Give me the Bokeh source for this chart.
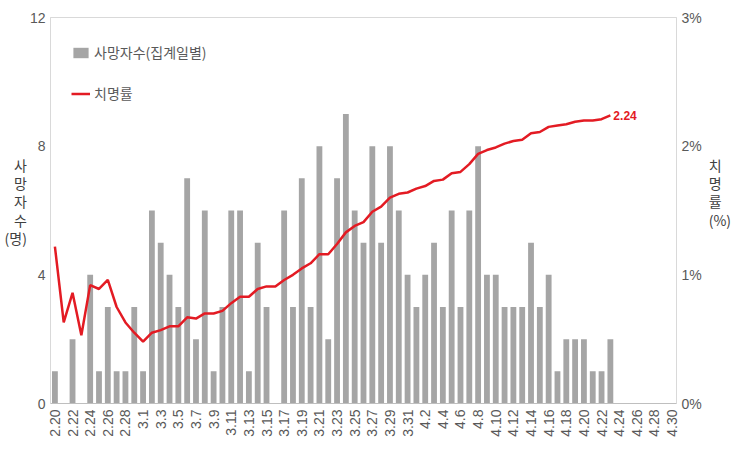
import math
from bokeh.plotting import figure
from bokeh.models import (Range1d, LinearAxis, FixedTicker, PrintfTickFormatter,
                          Legend, LegendItem, Label, ColumnDataSource)
from bokeh.embed import file_html
from bokeh.resources import INLINE

# ---- data ----
dates = ([f"2.{d}" for d in range(20, 30)] + [f"3.{d}" for d in range(1, 32)]
         + [f"4.{d}" for d in range(1, 31)])
deaths = [1, 0, 2, 0, 4, 1, 3, 1, 1, 3, 1,
          6, 5, 4, 3, 7, 2, 6, 1, 3, 6,
          6, 1, 5, 3, 0, 6, 3, 7, 3, 8,
          2, 7, 9, 6, 5, 8, 5, 8, 6, 4,
          3, 4, 5, 3, 6, 3, 6, 8, 4, 4,
          3, 3, 3, 5, 3, 4, 1, 2, 2, 2,
          1, 1, 2]
rates = [1.22, 0.63, 0.86, 0.53, 0.92, 0.89, 0.96, 0.75, 0.63, 0.55, 0.48,
         0.55, 0.57, 0.60, 0.60, 0.67, 0.66, 0.70, 0.70, 0.72, 0.78,
         0.83, 0.83, 0.89, 0.91, 0.91, 0.96, 1.00, 1.05, 1.09, 1.16,
         1.16, 1.24, 1.33, 1.38, 1.41, 1.49, 1.53, 1.60, 1.63, 1.64,
         1.67, 1.69, 1.73, 1.74, 1.79, 1.80, 1.86, 1.94, 1.97, 1.99,
         2.02, 2.04, 2.05, 2.10, 2.11, 2.15, 2.16, 2.17, 2.19, 2.20,
         2.20, 2.21, 2.24]
left_ticks = [0, 4, 8, 12]
right_ticks = [0, 1, 2, 3]
bar_label = "사망자수(집계일별)"
line_label = "치명률"
left_title = "사망자수(명)"
right_title = "치명률(%)"

KR = "'Noto Sans CJK KR', sans-serif"
NUM = "'Liberation Sans Narrow', 'Liberation Sans', sans-serif"
GRAY_TXT = "#595959"
GRID = "#d9d9d9"
RED = "#e31b23"

p = figure(width=737, height=449, output_backend="svg", toolbar_location=None,
           x_range=Range1d(-0.5, len(dates) - 0.5), y_range=Range1d(0, 12),
           min_border_left=50, min_border_right=61, min_border_top=17,
           min_border_bottom=46)
p.extra_y_ranges = {"rate": Range1d(0, 3)}
p.grid.visible = False
p.outline_line_color = GRID
p.background_fill_color = "white"
p.border_fill_color = "white"

src_bar = ColumnDataSource(dict(x=list(range(len(deaths))), top=deaths))
src_line = ColumnDataSource(dict(x=list(range(len(rates))), y=rates))

bars = p.vbar(x="x", top="top", width=0.66, source=src_bar,
              fill_color="#a5a5a5", line_color=None)
line = p.line(x="x", y="y", source=src_line, y_range_name="rate",
              line_color=RED, line_width=2.5)


def style_axis(ax):
    ax.major_tick_out = 0
    ax.major_tick_in = 0
    ax.minor_tick_out = 0
    ax.minor_tick_in = 0
    ax.major_label_text_color = GRAY_TXT


# x axis
xa = p.xaxis[0]
style_axis(xa)
xa.ticker = FixedTicker(ticks=list(range(0, len(dates), 2)))
xa.major_label_overrides = {i: dates[i] for i in range(0, len(dates), 2)}
xa.major_label_orientation = math.pi / 2
xa.major_label_text_font = "'Liberation Sans', sans-serif"
xa.major_label_text_font_size = "14px"
xa.major_label_standoff = 6
xa.axis_line_color = "#bfbfbf"

# left axis
ya = p.yaxis[0]
style_axis(ya)
ya.ticker = FixedTicker(ticks=left_ticks)
ya.major_label_text_font = NUM
ya.major_label_text_font_size = "14px"
ya.major_label_standoff = 5
ya.axis_line_color = GRID

# right axis
ra = LinearAxis(y_range_name="rate", ticker=FixedTicker(ticks=right_ticks),
                formatter=PrintfTickFormatter(format="%d%%"))
style_axis(ra)
ra.major_label_text_font = NUM
ra.major_label_text_font_size = "14px"
ra.major_label_standoff = 5
ra.axis_line_color = GRID
p.add_layout(ra, "right")

# axis titles: characters stacked vertically (as in the reference)
stack_ok = "axis_label_orientation" in ya.properties()
for ax, title, standoff, pad in ((ya, left_title, 0, 1), (ra, right_title, 4, 2)):
    if stack_ok:
        head, tail = title.split("(")
        ax.axis_label = "\n".join(list(head) + ["(" + tail] + [" "] * pad)
        ax.axis_label_orientation = "horizontal"
        ax.axis_label_text_align = "center"
        ax.axis_label_text_line_height = 0.91
    else:
        ax.axis_label = title
    ax.axis_label_standoff = standoff
    ax.axis_label_text_font = KR
    ax.axis_label_text_font_size = "14px"
    ax.axis_label_text_font_style = "normal"
    ax.axis_label_text_color = "#404040"

# legend
legend = Legend(items=[LegendItem(label=bar_label, renderers=[bars]),
                       LegendItem(label=line_label, renderers=[line])],
                location=(21, 300), orientation="vertical",
                glyph_width=19, glyph_height=13, label_height=20,
                spacing=21, padding=0, margin=0, label_standoff=4,
                border_line_color=None, background_fill_alpha=0,
                label_text_font=KR, label_text_font_size="14px",
                label_text_color=GRAY_TXT)
p.add_layout(legend)

# last value label
p.add_layout(Label(x=len(rates) - 1, y=rates[-1], y_range_name="rate",
                   text=f"{rates[-1]:.2f}", x_offset=3, text_align="left",
                   text_baseline="middle", text_font=NUM, text_font_size="12px",
                   text_font_style="bold", text_color=RED))

open("out.html", "w").write(file_html(p, INLINE))
